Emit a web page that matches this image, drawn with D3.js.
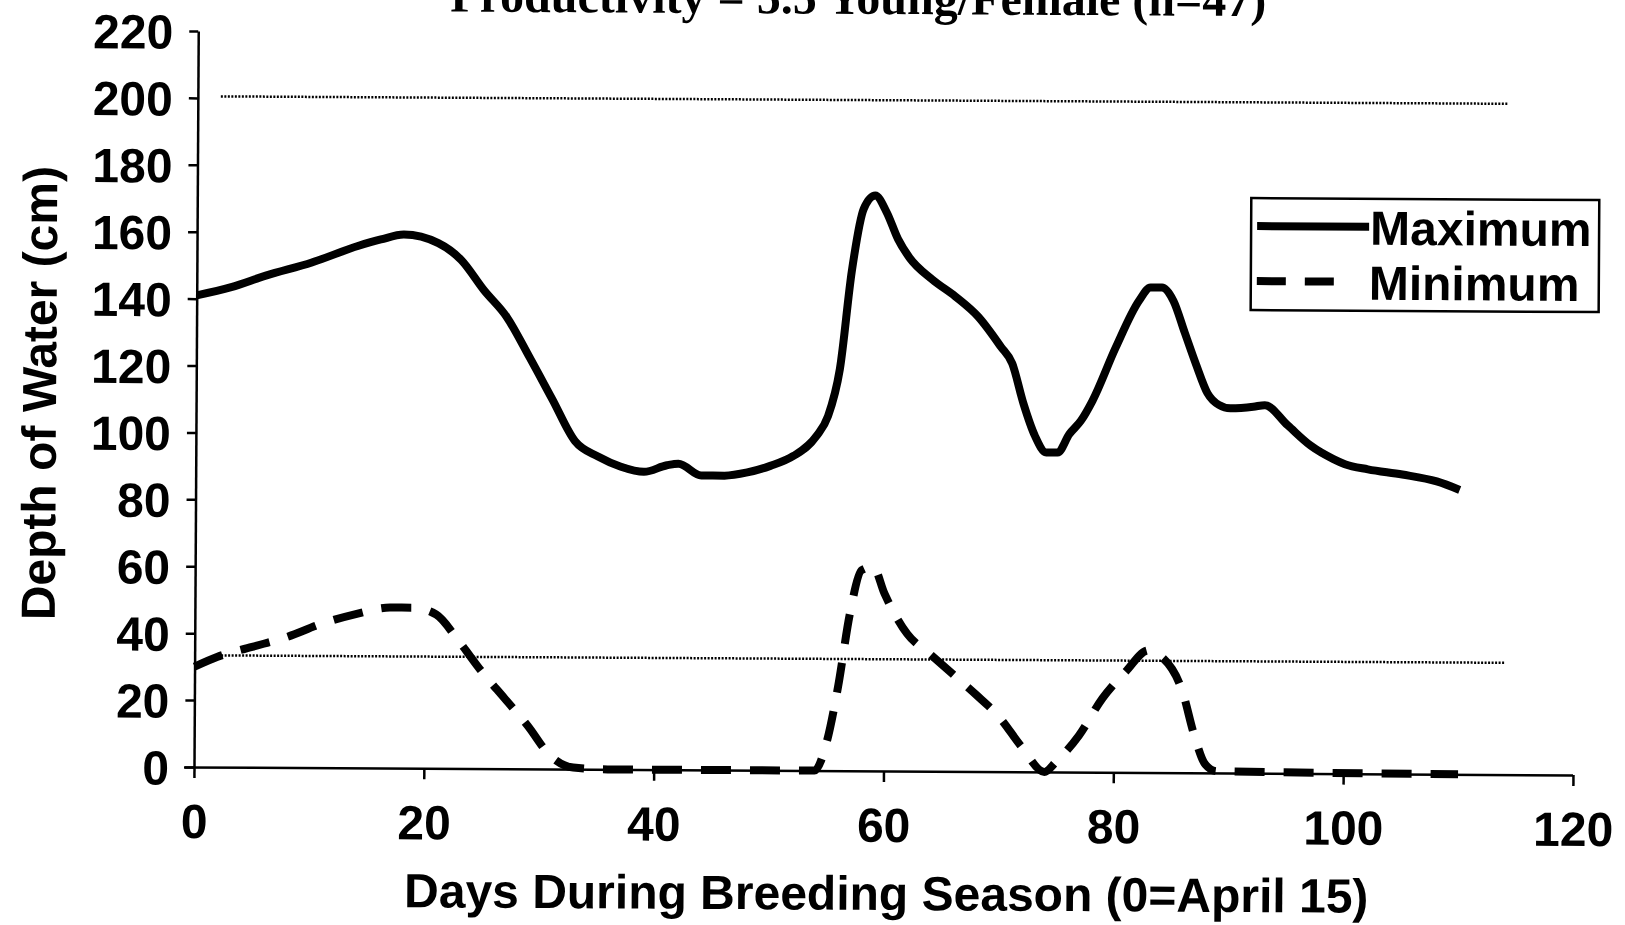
<!DOCTYPE html>
<html>
<head>
<meta charset="utf-8">
<script src="https://cdn.jsdelivr.net/npm/d3@7"></script>
<style>
  body { margin: 0; background: #fff; }
  svg text { fill: #000; }
</style>
</head>
<body>
<svg width="1625" height="925"></svg>
<script>
const width = 1625;
const height = 925;

// data (days since April 15, depth in cm)
const maxDays = [0, 3, 6, 10, 14, 16, 18, 21, 23, 25, 27, 29, 31, 33, 35, 37, 39, 41, 42, 44, 46, 48, 50, 52, 54, 55, 56, 57, 58, 59, 60, 61, 62, 64, 66, 68, 70, 71, 72, 73, 74, 75, 76, 77, 78, 80, 82, 83, 84, 85, 86, 87, 88, 89, 90, 92, 93, 95, 97, 99, 100, 102, 105, 108, 110];
const maxDepth = [141, 143.5, 147, 151, 156, 158, 159.5, 157, 152, 143, 135, 123, 110.5, 98, 93.5, 90.5, 89, 91, 91.5, 88, 88, 89, 91, 94, 100, 106, 120, 149.5, 168, 172, 167, 159, 153.5, 147, 142, 136, 127, 122, 110, 100.5, 95.5, 95.5, 101, 105, 111, 127, 141, 145, 145, 141, 131.5, 122, 113.5, 110, 109, 109.5, 110, 104, 98, 94, 92.5, 91, 89.5, 87.5, 85];

const minDays = [0, 2, 5, 8, 11, 14, 17, 19, 21, 23, 25, 27, 29, 31, 33, 36, 54, 55, 56, 57, 58, 59, 60, 62, 64, 66, 68, 70, 72, 74, 75, 77, 79, 81, 83, 84, 86, 87, 88, 89, 110];
const minDepth = [30, 33, 36, 39, 43, 46, 48, 48, 46, 38, 29, 21, 13, 4, 0.5, 0, 0, 8, 25, 47, 60, 61, 53, 41, 35, 29, 23, 16.5, 7.5, 0, 3, 11, 22, 30, 36.5, 35, 24, 11.5, 2.5, 0.5, 0];

// dotted reference levels, drawn from day 2 to day 114
const refLevels = [200.5, 33.4];
const refSpan = [2, 114];

const xTicks = [0, 20, 40, 60, 80, 100, 120];
const yTicks = [0, 20, 40, 60, 80, 100, 120, 140, 160, 180, 200, 220];
const seriesNames = ["Maximum", "Minimum"];

const margin = {top: 31, right: 52, bottom: 158, left: 194};
const x = d3.scaleLinear([0, 120], [margin.left, width - margin.right]);
const y = d3.scaleLinear([0, 220], [height - margin.bottom, margin.top]);

const svg = d3.select("svg");
// the scan is turned a little clockwise, so the whole figure is too
const root = svg.append("g")
  .attr("transform", `rotate(0.33 ${x(0)} ${y(0)})`);

const sansFont = "'Liberation Sans', Arial, Helvetica, sans-serif";

// title, mostly cut off at the top edge as in the scan
root.append("text")
  .attr("x", 854)
  .attr("y", 10)
  .attr("text-anchor", "middle")
  .style("font-family", "'Liberation Serif', 'Times New Roman', serif")
  .style("font-weight", "bold")
  .style("font-size", "48px")
  .text("Productivity = 5.5 Young/Female (n=47)");

// reference lines
root.append("g").selectAll("line")
  .data(refLevels)
  .join("line")
    .attr("x1", x(refSpan[0]))
    .attr("x2", x(refSpan[1]))
    .attr("y1", d => y(d))
    .attr("y2", d => y(d))
    .attr("stroke", "#000")
    .attr("stroke-width", 2.5)
    .attr("stroke-dasharray", "2,1.5");

// axes
const xAxis = g => g
  .attr("transform", `translate(0,${y(0)})`)
  .call(d3.axisBottom(x).tickValues(xTicks).tickSize(11).tickSizeOuter(0))
  .call(g => g.select(".domain").attr("d", `M${x(0) - 10},0.5H${x(120)}`));

const yAxis = g => g
  .attr("transform", `translate(${x(0)},0)`)
  .call(d3.axisLeft(y).tickValues(yTicks).tickSize(9).tickSizeOuter(0));

root.append("g").call(xAxis).call(g => g.selectAll("text").attr("y", 71).attr("dy", null));
root.append("g").call(yAxis).call(g => g.selectAll("text").attr("x", -25).attr("dy", "0.36em"));

root.selectAll(".domain, .tick line")
  .attr("stroke", "#000")
  .attr("stroke-width", 2.5);
root.selectAll(".tick text")
  .style("font-family", sansFont)
  .style("font-weight", "bold")
  .style("font-size", "48px");

// axis titles
root.append("text")
  .attr("x", 887)
  .attr("y", 906)
  .attr("text-anchor", "middle")
  .style("font-family", sansFont)
  .style("font-weight", "bold")
  .style("font-size", "48px")
  .text("Days During Breeding Season (0=April 15)");

root.append("text")
  .attr("transform", "translate(54,394) rotate(-90)")
  .attr("text-anchor", "middle")
  .style("font-family", sansFont)
  .style("font-weight", "bold")
  .style("font-size", "48px")
  .text("Depth of Water (cm)");

// series
const line = d3.line()
  .x(d => x(d[0]))
  .y(d => y(d[1]))
  .curve(d3.curveMonotoneX);

root.append("path")
  .datum(d3.zip(maxDays, maxDepth))
  .attr("fill", "none")
  .attr("stroke", "#000")
  .attr("stroke-width", 8)
  .attr("stroke-linejoin", "round")
  .attr("d", line);

root.append("path")
  .datum(d3.zip(minDays, minDepth))
  .attr("fill", "none")
  .attr("stroke", "#000")
  .attr("stroke-width", 8)
  .attr("stroke-dasharray", "30,19")
  .attr("stroke-linejoin", "round")
  .attr("d", line);

// legend
const legend = root.append("g").attr("transform", "translate(1248,192)");
legend.append("rect")
  .attr("width", 348)
  .attr("height", 112)
  .attr("fill", "#fff")
  .attr("stroke", "#000")
  .attr("stroke-width", 2.5);

const entry = legend.selectAll("g.entry")
  .data(seriesNames)
  .join("g")
    .attr("class", "entry")
    .attr("transform", (d, i) => `translate(0,${28 + i * 55})`);

entry.append("line")
  .attr("x1", 6)
  .attr("x2", (d, i) => i === 0 ? 118 : 84)
  .attr("stroke", "#000")
  .attr("stroke-width", 8)
  .attr("stroke-dasharray", (d, i) => i === 0 ? null : "29,19");

entry.append("text")
  .attr("x", (d, i) => i === 0 ? 119 : 118)
  .attr("y", 18)
  .style("font-family", sansFont)
  .style("font-weight", "bold")
  .style("font-size", "48px")
  .text(d => d);
</script>
</body>
</html>
